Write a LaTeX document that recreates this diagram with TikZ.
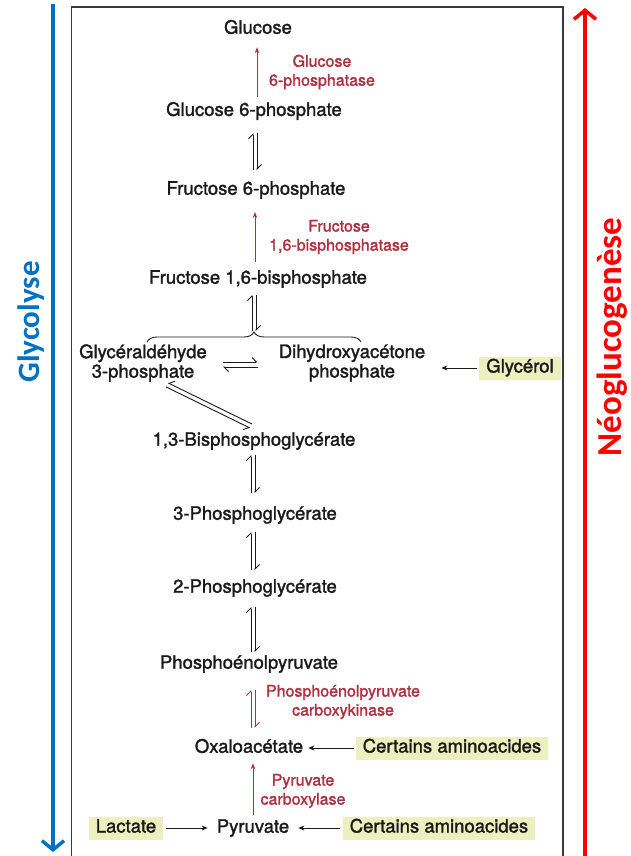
\documentclass[tikz,border=0pt]{standalone}
\usepackage{fontspec}
\setmainfont{TeX Gyre Heros}[FakeBold=1.6]
\newfontfamily\sidefont{Carlito}
\usepackage{tikz}
\usetikzlibrary{arrows.meta, decorations.pathreplacing, calc}

\definecolor{glyblue}{HTML}{0070C0}
\definecolor{neored}{HTML}{FF0000}
\definecolor{enzred}{HTML}{B0303F}
\definecolor{hilite}{HTML}{ECEFBE}
\definecolor{ink}{HTML}{1A1A1A}
\definecolor{framegray}{HTML}{3A3A3A}

\begin{document}
\begin{tikzpicture}[x=1pt, y=-1pt,
  met/.style={font=\fontsize{18.5}{19.5}\selectfont, text=ink, align=center, inner sep=0pt},
  enz/.style={font=\fontsize{16}{19}\selectfont, text=enzred, align=center, inner sep=0pt},
  feed/.style={met, fill=hilite, text height=13pt, text depth=4pt, inner xsep=7pt, inner ysep=3pt},
  rev/.style={draw=ink, line width=0.9pt, -{Straight Barb[left, length=4.5pt, width=9pt]}},
  revdiag/.style={draw=ink, line width=0.9pt, -{Straight Barb[right, length=4.5pt, width=9pt]}},
  fwd/.style={draw=ink, line width=0.9pt, -{Stealth[length=6pt, width=5pt]}},
  enzarrow/.style={draw=enzred, line width=1pt, -{Stealth[length=6pt, width=4.5pt]}},
  side/.style={line width=3.5pt, -{Straight Barb[length=9pt, width=22pt]}},
  sidelabel/.style={rotate=90, inner sep=0pt}]

\useasboundingbox (0,0) rectangle (630,856);

% Frame round the scheme
\draw[framegray, line width=1.3pt] (71.5,870) -- (71.5,7) -- (563,7) -- (563,870);

% Side arrows
\coordinate (glytop) at (53,4);
\coordinate (glybot) at (53,852);
\draw[side, glyblue] (glytop) -- (glybot);
\node[sidelabel, text=glyblue, font=\sidefont\bfseries\fontsize{31}{31}\selectfont] (glylabel) at (31,322) {Glycolyse};

\coordinate (neobot) at (585,862);
\coordinate (neotop) at (585,8);
\draw[side, neored] (neobot) -- (neotop);
\node[sidelabel, text=neored, font=\sidefont\bfseries\fontsize{35}{35}\selectfont] (neolabel) at (612,337) {Néoglucogenèse};

% Metabolites
\node[met] (glc) at (258,27) {Glucose};
\node[met] (g6p) at (254,111) {Glucose 6-phosphate};
\node[met] (f6p) at (256,190) {Fructose 6-phosphate};
\node[met] (f16bp) at (258,279) {Fructose 1,6-bisphosphate};
\node[met] (gap) at (143,363) {Glycéraldéhyde\\3-phosphate};
\node[met] (dhap) at (352,363) {Dihydroxyacétone\\phosphate};
\node[met] (bpg) at (254,441) {1,3-Bisphosphoglycérate};
\node[met] (pg3) at (255,515) {3-Phosphoglycérate};
\node[met] (pg2) at (255,588) {2-Phosphoglycérate};
\node[met] (pep) at (249,664) {Phosphoénolpyruvate};
\node[met] (oxa) at (249,746) {Oxaloacétate};
\node[met] (pyr) at (253,828) {Pyruvate};

% Entry points (highlighted)
\node[feed] (glycerol) at (520,368) {Glycérol};
\node[feed] (aa1) at (452,748) {Certains aminoacides};
\node[feed] (lac) at (126,828) {Lactate};
\node[feed] (aa2) at (439,828) {Certains aminoacides};

% Enzymes
\node[enz] (g6pase) at (322,72) {Glucose\\6-phosphatase};
\node[enz] (fbpase) at (339,237) {Fructose\\1,6-bisphosphatase};
\node[enz] (pepck) at (343,702) {Phosphoénolpyruvate\\carboxykinase};
\node[enz] (pcase) at (303,791) {Pyruvate\\carboxylase};

% Irreversible steps of neoglucogenesis
\draw[enzarrow, shorten <=5pt, shorten >=13pt] (g6p.north -| 257,0) -- (glc.south -| 257,0);
\draw[enzarrow, shorten <=8pt, shorten >=13pt] (f16bp.north -| 255,0) -- (f6p.south -| 255,0);
\draw[enzarrow, shorten <=4pt, shorten >=10pt] (pyr.north -| 253,0) -- (oxa.south -| 253,0);

% Reversible steps
\draw[rev, shorten <=11pt, shorten >=13pt] (f6p.north -| 253,0) -- (g6p.south -| 253,0);
\draw[rev, shorten <=13pt, shorten >=11pt] (g6p.south -| 257,0) -- (f6p.north -| 257,0);

\draw[ink, line width=0.9pt, decorate, decoration={brace, amplitude=10pt}] (147,342) -- (361,342);
\coordinate (brtip) at (254,332);
\draw[rev, shorten <=1pt, shorten >=7pt] (brtip -| 252,0) -- (f16bp.south -| 252,0);
\draw[rev, shorten <=7pt, shorten >=1pt] (f16bp.south -| 256,0) -- (brtip -| 256,0);

\draw[rev, shorten <=16pt, shorten >=21pt] (gap.east |- 0,362) -- (dhap.west |- 0,362);
\draw[rev, shorten <=21pt, shorten >=16pt] (dhap.west |- 0,367) -- (gap.east |- 0,367);

\draw[revdiag] ($(bpg.north)+(-2,-8)$) -- ($(gap.south)+(25,1)$);
\draw[revdiag] ($(gap.south)+(23,5)$) -- ($(bpg.north)+(-4,-4)$);

\draw[rev, shorten <=13pt, shorten >=5pt] (pg3.north -| 251,0) -- (bpg.south -| 251,0);
\draw[rev, shorten <=5pt, shorten >=13pt] (bpg.south -| 255,0) -- (pg3.north -| 255,0);

\draw[rev, shorten <=9pt, shorten >=8pt] (pg2.north -| 251,0) -- (pg3.south -| 251,0);
\draw[rev, shorten <=8pt, shorten >=9pt] (pg3.south -| 255,0) -- (pg2.north -| 255,0);

\draw[rev, shorten <=3pt, shorten >=10pt] (pep.north -| 251,0) -- (pg2.south -| 251,0);
\draw[rev, shorten <=10pt, shorten >=3pt] (pg2.south -| 255,0) -- (pep.north -| 255,0);

\draw[rev, draw=enzred, shorten <=11pt, shorten >=17pt] (oxa.north -| 251,0) -- (pep.south -| 251,0);
\draw[rev, draw=enzred, shorten <=17pt, shorten >=11pt] (pep.south -| 255,0) -- (oxa.north -| 255,0);

% Supplies
\draw[fwd, shorten <=2pt, shorten >=16pt] (glycerol.west) -- (dhap.east |- glycerol.west);
\draw[fwd, shorten <=2pt, shorten >=5pt] (aa1.west) -- (oxa.east |- aa1.west);
\draw[fwd, shorten <=3pt, shorten >=9pt] (lac.east) -- (pyr.west);
\draw[fwd, shorten <=3pt, shorten >=9pt] (aa2.west) -- (pyr.east);

\end{tikzpicture}
\end{document}
